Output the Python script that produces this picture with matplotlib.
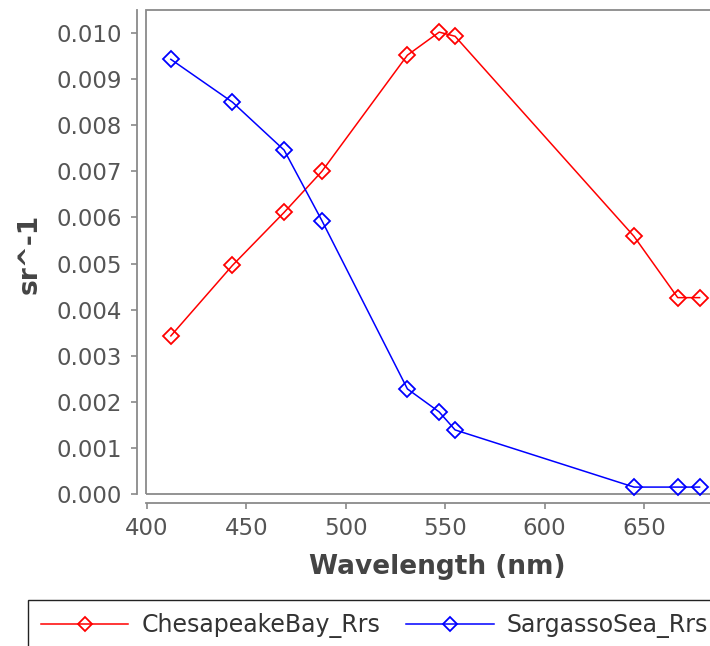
import matplotlib
matplotlib.use("Agg")
import matplotlib.pyplot as plt
from matplotlib.patches import Rectangle
from matplotlib.ticker import FormatStrFormatter, MultipleLocator

W, H, DPI = 710, 646, 100

C_AXIS = "#8a8a8a"
C_TEXT = "#555555"
C_LABEL = "#444444"

wavelengths = [412, 443, 469, 488, 531, 547, 555, 645, 667, 678]
chesapeake_rrs = [0.00343, 0.00496, 0.00611, 0.00700, 0.00952,
                  0.01002, 0.00993, 0.00559, 0.00426, 0.00426]
sargasso_rrs = [0.00943, 0.00850, 0.00746, 0.00593, 0.00228,
                0.00178, 0.00139, 0.00015, 0.00015, 0.00015]
series_names = ["ChesapeakeBay_Rrs", "SargassoSea_Rrs"]
series_colors = ["#ff0000", "#0000ff"]

plt.rcParams["font.family"] = ["DejaVu Sans"]

fig = plt.figure(figsize=(W / DPI, H / DPI), dpi=DPI)
# plot box runs off the right edge of the picture, like the reference
ax = fig.add_axes([146 / W, 1 - 494 / H, 584 / W, 484 / H])

for vals, name, col in zip([chesapeake_rrs, sargasso_rrs], series_names, series_colors):
    ax.plot(wavelengths, vals, color=col, lw=1.1, marker="D", ms=8,
            mfc="none", mec=col, mew=1.3, label=name, clip_on=False)

ax.set_xlim(399.5, 693.3)
ax.set_ylim(0.0, 0.0105)
ax.xaxis.set_major_locator(MultipleLocator(50))
ax.yaxis.set_major_locator(MultipleLocator(0.001))
ax.yaxis.set_major_formatter(FormatStrFormatter("%.3f"))

# box around the data area, axes drawn a few pixels outside it
ax.add_patch(Rectangle((0, 0), 1, 1, transform=ax.transAxes, fill=False,
                       edgecolor=C_AXIS, lw=1.3, clip_on=False, zorder=0))
for s in ["top", "right"]:
    ax.spines[s].set_visible(False)
for s in ["left", "bottom"]:
    ax.spines[s].set_position(("outward", 6.5))
    ax.spines[s].set_color(C_AXIS)
    ax.spines[s].set_linewidth(1.3)

ax.tick_params(axis="both", colors=C_AXIS, labelcolor=C_TEXT, labelsize=16.5,
               length=4, width=1.2)
ax.tick_params(axis="y", pad=7)
ax.tick_params(axis="x", pad=6)

fig.text(437 / W, 1 - 567 / H, "Wavelength (nm)", ha="center", va="center",
         fontsize=19, fontweight="bold", color=C_LABEL)
fig.text(30 / W, 1 - 254 / H, "sr^-1", ha="center", va="center", rotation=90,
         fontsize=19, fontweight="bold", color=C_LABEL)

fig.legend(loc="upper left", bbox_to_anchor=(28 / W, 1 - 600 / H), ncol=2,
           frameon=True, fancybox=False, edgecolor="#222222", framealpha=1,
           borderaxespad=0, fontsize=17, handlelength=3.7, handletextpad=0.55,
           columnspacing=1.1, borderpad=0.55, labelcolor="#333333",
           markerscale=0.85)

fig.savefig("out.png", dpi=DPI)
